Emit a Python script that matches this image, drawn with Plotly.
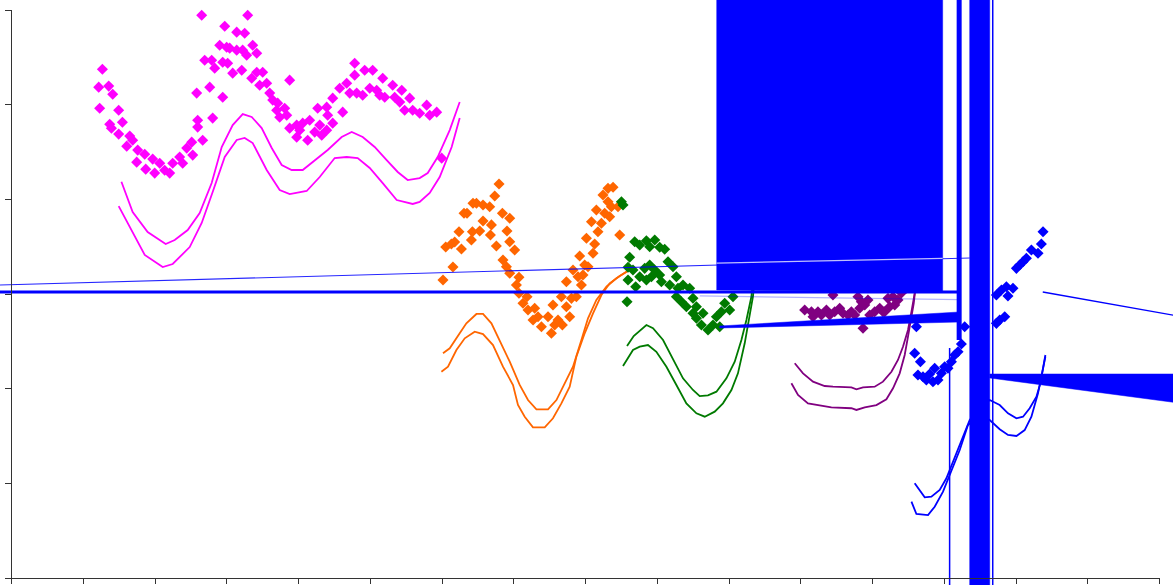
import plotly.graph_objects as go

# ---------------- data ----------------
magenta_x = [1.264,1.213,1.352,1.408,1.226,1.491,1.366,1.543,1.390,1.491,
             1.645,1.603,1.686,1.756,1.854,1.742,1.868,1.965,1.993,2.063,
             2.132,2.202,2.244,2.341,2.383,2.439,2.509,2.523,2.662,2.592,
             2.592,2.801,2.578,2.760,2.941,2.690,2.787,2.829,2.899,2.996,
             2.648,3.289,2.969,3.136,3.247,3.038,3.136,3.219,3.359,3.275,
             3.415,2.941,3.010,3.080,3.206,3.345,3.415,3.498,3.456,3.554,
             3.596,3.638,3.707,3.805,3.693,3.735,3.874,3.833,3.874,3.972,
             4.014,3.972,4.056,4.125,4.153,4.223,4.293,4.265,4.390,4.404,
             4.321,4.390,4.474,4.474,4.571,4.613,4.669,4.711,4.780,4.780,
             4.808,4.892,4.920,5.031,4.990,5.087,5.171,5.129,5.199,5.310,
             5.338,5.436,5.408,5.547,5.477,5.589,5.686,5.784,5.826,5.923,5.993]
magenta_y = [5.375,5.185,5.196,5.111,4.963,4.942,4.794,4.815,4.752,4.689,
             4.668,4.562,4.625,4.520,4.477,4.393,4.319,4.425,4.277,4.382,
             4.308,4.277,4.382,4.446,4.382,4.541,4.604,4.467,4.625,4.836,
             4.763,4.858,5.122,5.185,5.079,5.470,5.470,5.386,5.628,5.607,
             5.945,5.945,5.829,5.766,5.755,5.597,5.576,5.576,5.628,5.523,
             5.544,5.449,5.438,5.333,5.364,5.280,5.343,5.343,5.206,5.227,
             5.122,5.048,5.016,4.963,4.942,4.868,5.259,4.889,4.752,4.784,
             4.731,4.657,4.805,4.625,4.836,4.710,4.784,4.963,4.974,4.889,
             4.678,4.731,4.805,5.069,5.174,4.921,5.227,5.122,5.312,5.438,
             5.122,5.100,5.364,5.364,5.174,5.153,5.280,5.100,5.079,5.206,
             5.079,5.153,5.027,5.069,4.942,4.942,4.910,4.995,4.889,4.921,4.435]
magenta_up_x = [1.529,1.686,1.895,2.146,2.272,2.453,2.620,2.787,2.927,3.080,
                3.220,3.345,3.484,3.624,3.763,3.902,4.056,4.223,4.404,4.599,
                4.739,4.892,5.059,5.226,5.380,5.519,5.686,5.798,5.937,6.105,6.244]
magenta_up_y = [4.186,3.866,3.655,3.528,3.570,3.676,3.856,4.172,4.553,4.785,
                4.901,4.870,4.753,4.542,4.363,4.310,4.310,4.415,4.521,4.658,
                4.711,4.658,4.553,4.415,4.289,4.204,4.225,4.278,4.447,4.732,5.028]
magenta_lo_x = [1.491,1.645,1.854,2.105,2.244,2.481,2.648,2.801,2.969,3.136,
                3.247,3.359,3.554,3.735,3.875,4.111,4.293,4.502,4.669,4.822,
                4.990,5.171,5.366,5.589,5.686,5.826,5.965,6.132,6.244]
magenta_lo_y = [3.929,3.708,3.412,3.285,3.317,3.496,3.750,4.077,4.447,4.627,
                4.648,4.595,4.310,4.098,4.056,4.088,4.236,4.436,4.447,4.436,
                4.331,4.172,3.993,3.951,3.972,4.067,4.236,4.553,4.859]

orange_x = [6.011,6.150,6.049,6.128,6.174,6.268,6.234,6.304,6.346,6.429,
            6.477,6.569,6.662,6.732,6.792,6.569,6.523,6.421,6.407,6.672,
            6.686,6.755,6.839,6.941,6.903,6.941,7.010,6.847,6.895,6.941,
            7.070,7.034,7.070,7.182,7.126,7.196,7.289,7.335,7.266,7.383,
            7.475,7.522,7.568,7.614,7.675,7.544,7.661,7.731,7.777,7.801,
            7.870,7.731,7.823,7.940,7.893,7.962,8.032,7.986,7.916,8.102,
            8.125,8.010,8.080,8.171,8.219,8.149,8.265,8.334,8.358,8.311,
            8.241,8.311,8.381,8.450,8.474]
orange_y = [3.148,3.285,3.496,3.528,3.549,3.475,3.658,3.852,3.852,3.958,
            3.958,3.940,3.922,4.035,4.162,3.771,3.666,3.658,3.570,3.624,
            3.730,3.507,3.852,3.800,3.666,3.552,3.465,3.359,3.288,3.219,
            3.176,3.095,3.007,2.971,2.902,2.831,2.849,2.760,2.725,2.654,
            2.760,2.585,2.672,2.725,2.672,2.884,2.971,2.866,2.760,2.954,
            2.971,3.130,3.253,3.095,3.183,3.201,3.288,3.306,3.401,3.430,
            3.528,3.588,3.764,3.658,3.747,3.887,3.852,3.816,3.922,3.975,
            4.046,4.116,4.127,3.922,3.623]
orange_up_x = [6.011,6.105,6.244,6.337,6.477,6.569,6.686,6.801,6.941,7.080,
               7.196,7.313,7.475,7.592,7.707,7.823,7.940,8.032,8.149,8.289,8.428,8.567]
orange_up_y = [2.374,2.426,2.585,2.690,2.789,2.789,2.690,2.514,2.285,2.039,
               1.880,1.782,1.782,1.880,2.057,2.232,2.514,2.743,2.937,3.077,3.166,3.235]
orange_lo_x = [5.989,6.081,6.198,6.314,6.453,6.569,6.708,6.847,6.987,7.056,
               7.150,7.265,7.429,7.544,7.661,7.777,7.870,7.986,8.102,8.219,8.334,8.474,8.613]
orange_lo_y = [2.179,2.232,2.408,2.532,2.602,2.577,2.461,2.232,2.039,1.828,
               1.704,1.592,1.592,1.687,1.845,2.021,2.338,2.585,2.796,2.989,3.113,3.190,3.253]

green_x = [8.498,8.520,8.683,8.753,8.846,8.892,8.962,9.031,9.101,8.613,
           8.590,8.659,8.590,8.697,8.576,8.753,8.822,8.892,8.962,8.846,
           8.916,9.031,9.147,9.055,9.171,9.264,9.217,9.286,9.356,9.449,
           9.264,9.334,9.403,9.495,9.543,9.495,9.543,9.635,9.613,9.705,
           9.774,9.822,9.891,9.937,10.007,9.868,10.053]
green_y = [3.975,3.940,3.552,3.518,3.563,3.500,3.570,3.493,3.472,3.388,
           3.282,3.253,3.148,3.077,2.919,3.183,3.271,3.306,3.253,3.148,
           3.183,3.201,3.341,3.130,3.095,3.183,3.288,3.060,3.095,3.060,
           2.971,2.919,2.866,2.955,2.866,2.796,2.743,2.796,2.672,2.620,
           2.672,2.760,2.813,2.902,2.831,2.654,2.971]
green_up_x = [8.576,8.669,8.846,8.938,9.078,9.217,9.356,9.495,9.589,9.704,
              9.822,9.961,10.077,10.170,10.240,10.309,10.355]
green_up_y = [2.451,2.556,2.672,2.638,2.514,2.303,2.109,1.986,1.922,1.930,
              1.968,2.109,2.285,2.514,2.725,2.971,3.306]
green_lo_x = [8.520,8.659,8.753,8.868,8.985,9.125,9.264,9.403,9.543,9.659,
              9.798,9.913,10.031,10.122,10.216,10.286,10.331,10.369]
green_lo_y = [2.239,2.408,2.443,2.461,2.390,2.232,2.039,1.845,1.740,1.704,
              1.757,1.845,1.986,2.162,2.479,2.760,2.971,3.274]

purple_x = [11.052,11.146,11.168,11.237,11.285,11.355,11.401,11.470,11.540,11.586,
            11.656,11.703,11.749,11.819,11.865,11.842,11.795,11.889,11.934,11.958,
            12.028,12.098,12.167,12.237,12.307,12.352,12.283,12.213,12.143,11.446,
            12.400,12.470]
purple_y = [2.831,2.813,2.760,2.813,2.778,2.831,2.778,2.813,2.849,2.796,
            2.778,2.813,2.778,2.849,2.638,2.919,2.971,2.884,2.937,2.778,
            2.813,2.849,2.813,2.866,2.884,2.937,2.971,2.954,2.813,2.989,
            3.010,3.063]
purple_up_x = [10.913,11.029,11.168,11.331,11.446,11.703,11.773,11.865,12.028,12.143,
               12.261,12.352,12.422,12.492,12.540,12.585,12.613]
purple_up_y = [2.268,2.162,2.074,2.028,2.021,2.014,1.993,2.014,2.021,2.074,
               2.179,2.303,2.443,2.620,2.813,3.007,3.201]
purple_lo_x = [10.867,10.959,11.098,11.261,11.424,11.703,11.773,11.889,12.052,12.191,
               12.283,12.376,12.446,12.492,12.540,12.572,12.600]
purple_lo_y = [2.057,1.933,1.845,1.827,1.803,1.793,1.775,1.803,1.827,1.888,
               2.004,2.162,2.356,2.549,2.743,2.902,3.095]

blue_x = [12.585,12.665,12.631,12.701,12.748,12.794,12.840,12.864,12.910,12.957,
          13.003,13.049,13.097,13.143,13.189,13.236,13.282,13.724,13.770,13.840,
          13.724,13.794,13.863,13.955,13.885,14.003,14.049,14.095,14.142,14.212,
          14.304,14.351,14.374,12.609]
blue_y = [2.374,2.285,2.144,2.126,2.092,2.155,2.074,2.215,2.092,2.162,
          2.232,2.215,2.285,2.356,2.390,2.472,2.655,2.690,2.725,2.760,
          2.989,3.042,3.077,3.060,2.979,3.271,3.306,3.341,3.377,3.465,
          3.430,3.528,3.658,2.655]
blue_up_x = [12.585,12.655,12.725,12.818,12.934,13.027,13.119,13.236,13.352,13.491,
             13.631,13.770,13.886,14.003,14.095,14.188,14.282,14.337,14.374,14.407]
blue_up_y = [1.000,0.930,0.852,0.859,0.930,1.053,1.228,1.458,1.669,1.796,
             1.880,1.827,1.740,1.687,1.704,1.793,1.915,2.057,2.215,2.356]
blue_lo_x = [12.540,12.609,12.771,12.864,12.980,13.097,13.213,13.328,13.491,13.631,
             13.770,13.886,14.003,14.118,14.212,14.304,14.374,14.407]
blue_lo_y = [0.806,0.676,0.665,0.753,0.912,1.123,1.352,1.616,1.722,1.669,
             1.571,1.511,1.500,1.563,1.704,1.951,2.197,2.338]

# runaway segments of the blue series (the rendering artefacts)
glitch_slope_x = [-0.3, 13.352]
glitch_slope_y = [3.092, 3.380]
glitch_block_x = [9.826, 12.975, 12.975, 9.826, 9.826]
glitch_block_y = [6.4, 6.4, 3.021, 3.042, 6.4]
glitch_streak_x = [9.826, 12.975]
glitch_streak_y = [3.327, 3.377]
glitch_band_x = [-0.3, 13.2]
glitch_band_y = [3.021, 3.021]
glitch_faint_x = [9.59, 13.21]
glitch_faint_y = [2.98, 2.94]
glitch_wedge1_x = [9.868, 13.21, 13.21, 9.868, 9.868]
glitch_wedge1_y = [2.662, 2.810, 2.704, 2.641, 2.662]
glitch_vbar_x = [13.205, 13.205]
glitch_vbar_y = [6.4, 2.514]
glitch_vthin_x = [13.072, 13.072]
glitch_vthin_y = [2.43, -0.3]
glitch_vthick_x = [13.352, 13.631, 13.631, 13.352, 13.352]
glitch_vthick_y = [6.4, 6.4, -0.3, -0.3, 6.4]
glitch_vline_x = [13.673, 13.673]
glitch_vline_y = [6.4, -0.3]
glitch_wedge2_x = [13.631, 16.6, 16.6, 13.631, 13.631]
glitch_wedge2_y = [2.155, 2.155, 1.815, 2.113, 2.155]
glitch_slope2_x = [14.37, 16.6]
glitch_slope2_y = [3.021, 2.722]

x_ticks = list(range(0, 17))
y_ticks = list(range(0, 7))

# ---------------- figure ----------------
MAGENTA = "#ff00ff"
ORANGE = "#ff6600"
GREEN = "#007a00"
PURPLE = "#800080"
BLUE = "#0000ff"

fig = go.Figure()


def add_group(px, py, ux, uy, lx, ly, color):
    fig.add_trace(go.Scatter(x=ux, y=uy, mode="lines",
                             line=dict(color=color, width=1.8)))
    fig.add_trace(go.Scatter(x=lx, y=ly, mode="lines",
                             line=dict(color=color, width=1.8)))
    fig.add_trace(go.Scatter(x=px, y=py, mode="markers",
                             marker=dict(symbol="diamond", size=8.5, color=color,
                                         line=dict(width=0))))


add_group(magenta_x, magenta_y, magenta_up_x, magenta_up_y, magenta_lo_x, magenta_lo_y, MAGENTA)
add_group(orange_x, orange_y, orange_up_x, orange_up_y, orange_lo_x, orange_lo_y, ORANGE)
add_group(green_x, green_y, green_up_x, green_up_y, green_lo_x, green_lo_y, GREEN)
add_group(purple_x, purple_y, purple_up_x, purple_up_y, purple_lo_x, purple_lo_y, PURPLE)
add_group(blue_x, blue_y, blue_up_x, blue_up_y, blue_lo_x, blue_lo_y, BLUE)


def gline(x, y, w, color=BLUE, opacity=1.0):
    fig.add_trace(go.Scatter(x=x, y=y, mode="lines", opacity=opacity,
                             line=dict(color=color, width=w)))


def gpoly(x, y):
    fig.add_trace(go.Scatter(x=x, y=y, mode="lines", fill="toself",
                             fillcolor=BLUE, line=dict(color=BLUE, width=0.5)))


gline(glitch_slope_x, glitch_slope_y, 1.1, opacity=0.85)
gpoly(glitch_block_x, glitch_block_y)
gline(glitch_streak_x, glitch_streak_y, 1.2, color="white", opacity=0.75)
gline(glitch_band_x, glitch_band_y, 3)
gline(glitch_faint_x, glitch_faint_y, 1.2, opacity=0.3)
gpoly(glitch_wedge1_x, glitch_wedge1_y)
gline(glitch_vbar_x, glitch_vbar_y, 5)
gline(glitch_vthin_x, glitch_vthin_y, 1.5)
gpoly(glitch_vthick_x, glitch_vthick_y)
gline(glitch_vline_x, glitch_vline_y, 1.5)
gpoly(glitch_wedge2_x, glitch_wedge2_y)
gline(glitch_slope2_x, glitch_slope2_y, 1.3)

# empty trace to carry the visible frame axes
fig.add_trace(go.Scatter(x=[], y=[], xaxis="x2", yaxis="y2", mode="markers"))

W, H = 1173, 585
L_PX, R_PX = 11.7, 1159.7   # pixel positions of x = 0 and x = 16
B_PX, T_PX = 578.0, 10.0    # pixel positions of y = 0 and y = 6
sx = (R_PX - L_PX) / 16.0
sy = (B_PX - T_PX) / 6.0

fig.update_layout(
    width=W, height=H,
    margin=dict(l=0, r=0, t=0, b=0, pad=0),
    paper_bgcolor="white", plot_bgcolor="rgba(0,0,0,0)",
    showlegend=False,
    hovermode=False,
    xaxis=dict(domain=[0, 1], range=[-L_PX / sx, (W - L_PX) / sx], visible=False),
    yaxis=dict(domain=[0, 1], range=[-(H - B_PX) / sy, B_PX / sy], visible=False),
    xaxis2=dict(domain=[L_PX / W, R_PX / W], range=[0, 16], anchor="y2",
                showline=True, linecolor="#333333", linewidth=1.2,
                ticks="outside", ticklen=5, tickwidth=1.2, tickcolor="#333333",
                tickvals=x_ticks, showticklabels=False, showgrid=False, zeroline=False),
    yaxis2=dict(domain=[(H - B_PX) / H, (H - T_PX) / H], range=[0, 6], anchor="x2",
                showline=True, linecolor="#333333", linewidth=1.2,
                ticks="outside", ticklen=6, tickwidth=1.2, tickcolor="#333333",
                tickvals=y_ticks, showticklabels=False, showgrid=False, zeroline=False),
)

fig.write_html("out.html",
               config={"displayModeBar": False},
               post_script="document.body.style.margin='0';document.body.style.overflow='hidden';")
